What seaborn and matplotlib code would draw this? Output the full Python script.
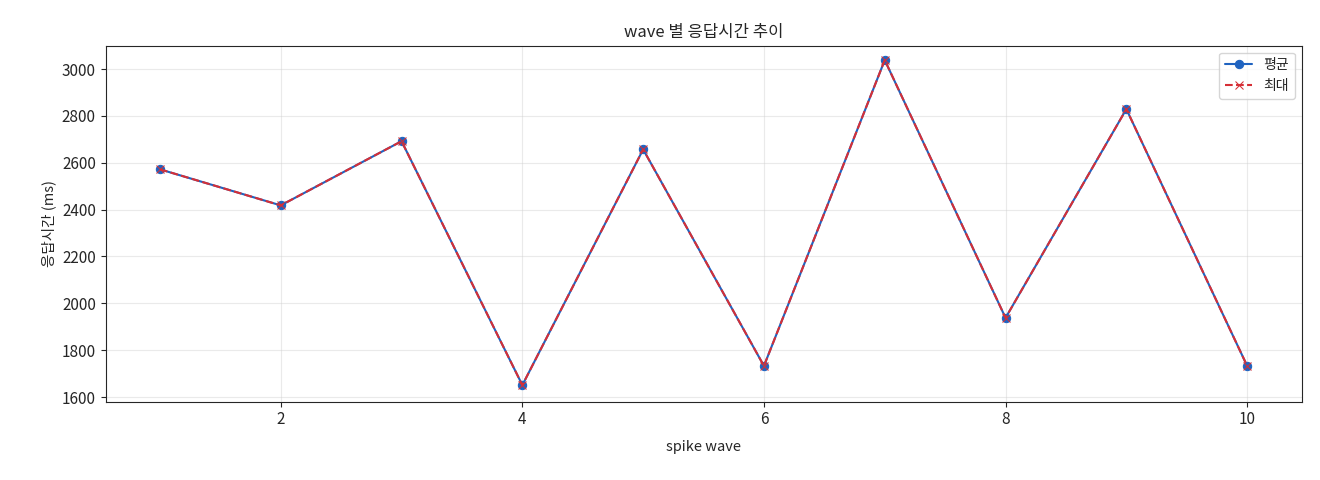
import matplotlib
matplotlib.use("Agg")
import matplotlib.pyplot as plt
import seaborn as sns
import pandas as pd

waves = [1, 2, 3, 4, 5, 6, 7, 8, 9, 10]
avg_ms = [2572, 2418, 2692, 1651, 2657, 1733, 3038, 1938, 2829, 1733]
max_ms = [2572, 2418, 2692, 1651, 2657, 1733, 3038, 1938, 2829, 1733]

sns.set_style("ticks")
plt.rcParams['font.family'] = ['Noto Sans CJK KR', 'DejaVu Sans']

df = pd.DataFrame({"wave": waves, "avg": avg_ms, "max": max_ms})
fig, ax = plt.subplots(figsize=(13.2, 4.8), dpi=100)
fig.subplots_adjust(left=0.08, right=0.986, top=0.905, bottom=0.163)
sns.lineplot(data=df, x="wave", y="avg", ax=ax, color="#1f63c0", marker="o",
             markersize=6, markeredgecolor="#1f63c0", label="평균")
sns.lineplot(data=df, x="wave", y="max", ax=ax, color="#d62f36", marker="x",
             markersize=6, markeredgecolor="#d62f36", label="최대")
ax.lines[1].set_linestyle((0, (3.7, 1.6)))
ax.set_xticks([2, 4, 6, 8, 10])
ax.set_yticks(range(1600, 3001, 200))
ax.set_ylim(1580, 3100)
ax.set_xlim(0.55, 10.45)
ax.tick_params(labelsize=11)
ax.grid(True, alpha=0.4, color="#cccccc")
ax.set_title("wave 별 응답시간 추이", fontsize=12)
ax.set_xlabel("spike wave", fontsize=10.5, labelpad=8)
ax.set_ylabel("응답시간 (ms)", fontsize=10.5)
h, l = ax.get_legend_handles_labels()
h[1].set_linestyle("--")
ax.legend(h, l, loc="upper right", fontsize=10)
fig.savefig("out.png")
